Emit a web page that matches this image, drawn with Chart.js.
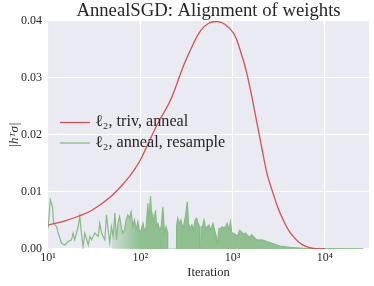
<!DOCTYPE html>
<html>
<head>
<meta charset="utf-8">
<script src="https://cdn.jsdelivr.net/npm/chart.js@4.4.1/dist/chart.umd.min.js"></script>
<style>
  html, body { margin: 0; padding: 0; background: #fff; }
  #chart { display: block; }
</style>
</head>
<body>
<canvas id="chart" width="374" height="286"></canvas>
<script>
// axis ticks
var xTicks = [10, 100, 1000, 10000];
var xTickLabels = ['10\u00b9', '10\u00b2', '10\u00b3', '10\u2074'];
var yTicks = [0, 0.01, 0.02, 0.03, 0.04];
var yTickLabels = ['0.00', '0.01', '0.02', '0.03', '0.04'];

var chartTitle = 'AnnealSGD: Alignment of weights';

// l2, triv, anneal (smooth bump)
var redX = [10, 15, 21, 30, 48, 70, 86, 100, 152, 212, 296, 370, 450, 550, 680, 830, 1030, 1200, 1440, 1850, 2100, 2370, 2750, 3100, 3530, 4000, 4540, 5300, 6300, 7500, 8800, 10000];
var redY = [0.0042, 0.0049, 0.0057, 0.0068, 0.0092, 0.0120, 0.0139, 0.0156, 0.0218, 0.0261, 0.0323, 0.0358, 0.0383, 0.0396, 0.0399, 0.0394, 0.0378, 0.0350, 0.0305, 0.0218, 0.0172, 0.0131, 0.0097, 0.0072, 0.0051, 0.0034, 0.0022, 0.0011, 0.0004, 0.0001, 0.0, 0.0];

// l2, anneal, resample (noisy)
var greenX = [10, 10.6, 11.2, 11.5, 12.4, 12.9, 14, 15.2, 16.5, 18, 18.7, 19.5, 21.2, 22.1, 23, 24, 25, 26, 27.3, 28.4,
  29.6, 32.2, 35, 36.4, 38, 41.3, 43, 44.9, 46.7, 48.7, 50.8, 53, 55.2, 57.2, 59.6, 62.2, 64.6, 67.3, 70.2, 73.2,
  76.2, 79.6, 82.9, 86.5, 90.2, 94, 98, 102, 106.7, 111, 115.8, 120.8, 124, 129, 133, 136.5, 140, 146, 150, 155,
  161.5, 168.5, 175.5, 183, 190.6, 196, 198, 244, 247, 254, 265, 276, 288, 298, 310, 323, 333, 345, 362, 376,
  392, 407, 424, 436, 438, 452, 456, 470, 490, 510, 532, 555, 578, 612, 638, 665, 683, 711, 740, 771,
  804, 838, 873, 910, 948, 980, 1012, 1080, 1125, 1190, 1250, 1330, 1380, 1470, 1570, 1600, 1830, 2080, 2360, 2770,
  3250, 4170, 5800, 8000, 26000];
var greenY = [0.0036, 0.0086, 0.0074, 0.0045, 0.0039, 0.0028, 0.0010, 0.0007, 0.0013, 0.0016, 0.0028, 0.0016, 0.0039, 0.0057, 0.0028, 0.0004, 0.0028, 0.0019, 0.0007, 0.0022,
  0.0016, 0.0028, 0.0022, 0.0045, 0.0028, 0.0016, 0.0060, 0.0033, 0.0010, 0.0039, 0.0022, 0.0063, 0.0016, 0.0045, 0.0057, 0.0039, 0.0028, 0.0033, 0.0051, 0.0060,
  0.0054, 0.0065, 0.0039, 0.0051, 0.0033, 0.0048, 0.0030, 0.0033, 0.0045, 0.0030, 0.0039, 0.0080, 0.0045, 0.0093, 0.0051, 0.0060, 0.0045, 0.0068, 0.0040, 0.0045,
  0.0033, 0.0039, 0.0074, 0.0028, 0.0039, 0.0030, 0.0000, 0.0000, 0.0040, 0.0054, 0.0045, 0.0051, 0.0036, 0.0045, 0.0060, 0.0083, 0.0045, 0.0036, 0.0042, 0.0033,
  0.0051, 0.0054, 0.0045, 0.0040, 0.0000, 0.0000, 0.0039, 0.0039, 0.0051, 0.0036, 0.0039, 0.0042, 0.0033, 0.0045, 0.0033, 0.0022, 0.0004, 0.0036, 0.0036, 0.0039,
  0.0036, 0.0039, 0.0045, 0.0033, 0.0048, 0.0028, 0.0028, 0.0025, 0.0022, 0.0033, 0.0030, 0.0025, 0.0028, 0.0022, 0.0022, 0.0025, 0.0016, 0.0016, 0.0013, 0.0009,
  0.0005, 0.0003, 0.0001, 0.00005, 0.00003];

var seriesLabels = ['\u2113\u2082, triv, anneal', '\u2113\u2082, anneal, resample'];

var RED = '#d65050';
var GREEN = '#86bb86';
var SERIF = "'Liberation Serif', 'DejaVu Serif', serif";

function points(xs, ys, from) {
  var out = [];
  for (var i = 0; i < xs.length; i++) {
    if (from && xs[i] < from) continue;
    out.push({ x: xs[i], y: ys[i] });
  }
  return out;
}

// grey plot background (seaborn darkgrid look)
var bgPlugin = {
  id: 'bg',
  beforeDraw: function (chart) {
    var a = chart.chartArea, ctx = chart.ctx;
    ctx.save();
    ctx.fillStyle = '#eaeaf2';
    ctx.fillRect(a.left, a.top, a.right - a.left, a.bottom - a.top);
    ctx.restore();
  }
};

// title centred over the plot area + legend inside the plot, no frame
var textPlugin = {
  id: 'texts',
  afterDatasetsDraw: function (chart) {
    var ctx = chart.ctx, a = chart.chartArea;
    ctx.save();
    ctx.fillStyle = '#262626';
    ctx.font = '18.7px ' + SERIF;
    ctx.textAlign = 'center';
    ctx.textBaseline = 'middle';
    ctx.fillText(chartTitle, (a.left + a.right) / 2, 11.5);

    var colors = [RED, GREEN];
    var rows = [122.5, 143];
    ctx.font = '16.2px ' + SERIF;
    ctx.textAlign = 'left';
    for (var i = 0; i < 2; i++) {
      ctx.strokeStyle = colors[i];
      ctx.lineWidth = 1.3;
      ctx.beginPath();
      ctx.moveTo(60, rows[i]);
      ctx.lineTo(90, rows[i]);
      ctx.stroke();
      ctx.fillText(seriesLabels[i], 95, rows[i] - 0.5);
    }
    ctx.restore();
  }
};

new Chart(document.getElementById('chart'), {
  type: 'line',
  data: {
    datasets: [{
      label: seriesLabels[0],
      data: points(redX, redY),
      borderColor: RED,
      borderWidth: 1.3,
      pointRadius: 0,
      tension: 0.4,
      fill: false
    }, {
      label: 'fill',
      data: points(greenX, greenY, 48),
      borderWidth: 0,
      pointRadius: 0,
      tension: 0,
      // fades in as the noise gets denser
      backgroundColor: function (c) {
        var a = c.chart.chartArea;
        if (!a) return 'rgba(134,187,134,0.9)';
        var g = c.chart.ctx.createLinearGradient(100, 0, 140, 0);
        g.addColorStop(0, 'rgba(134,187,134,0)');
        g.addColorStop(1, 'rgba(134,187,134,0.9)');
        return g;
      },
      fill: 'origin'
    }, {
      label: seriesLabels[1],
      data: points(greenX, greenY),
      borderColor: GREEN,
      borderWidth: 1.2,
      pointRadius: 0,
      tension: 0,
      fill: false
    }]
  },
  options: {
    responsive: false,
    animation: false,
    devicePixelRatio: 1,
    layout: { padding: { left: 0, right: 5, top: 21, bottom: 0 } },
    plugins: {
      legend: { display: false },
      tooltip: { enabled: false },
      title: { display: false }
    },
    scales: {
      x: {
        type: 'logarithmic',
        min: 10,
        max: 30000,
        afterBuildTicks: function (scale) {
          scale.ticks = xTicks.map(function (v) { return { value: v }; });
        },
        afterFit: function (scale) { scale.height = 37; },
        ticks: {
          color: '#262626',
          font: { family: SERIF, size: 12 },
          padding: 2,
          maxRotation: 0,
          autoSkip: false,
          callback: function (v, i) { return xTickLabels[i]; }
        },
        grid: { color: '#ffffff', lineWidth: 1.1, drawTicks: false },
        border: { display: false },
        title: {
          display: true,
          text: 'Iteration',
          color: '#262626',
          font: { family: SERIF, size: 12.5 },
          padding: { top: 0, bottom: 6 }
        }
      },
      y: {
        min: 0,
        max: 0.04,
        afterBuildTicks: function (scale) {
          scale.ticks = yTicks.map(function (v) { return { value: v }; });
        },
        afterFit: function (scale) { scale.width = 48; },
        ticks: {
          color: '#262626',
          font: { family: SERIF, size: 12 },
          padding: 6,
          callback: function (v, i) { return yTickLabels[i]; }
        },
        grid: { color: '#ffffff', lineWidth: 1.1, drawTicks: false },
        border: { display: false },
        title: {
          display: true,
          text: '|h\u1d40\u03c3|',
          color: '#262626',
          font: { family: SERIF, size: 13, style: 'italic' },
          padding: { top: 7, bottom: 0 }
        }
      }
    }
  },
  plugins: [bgPlugin, textPlugin]
});
</script>
</body>
</html>
